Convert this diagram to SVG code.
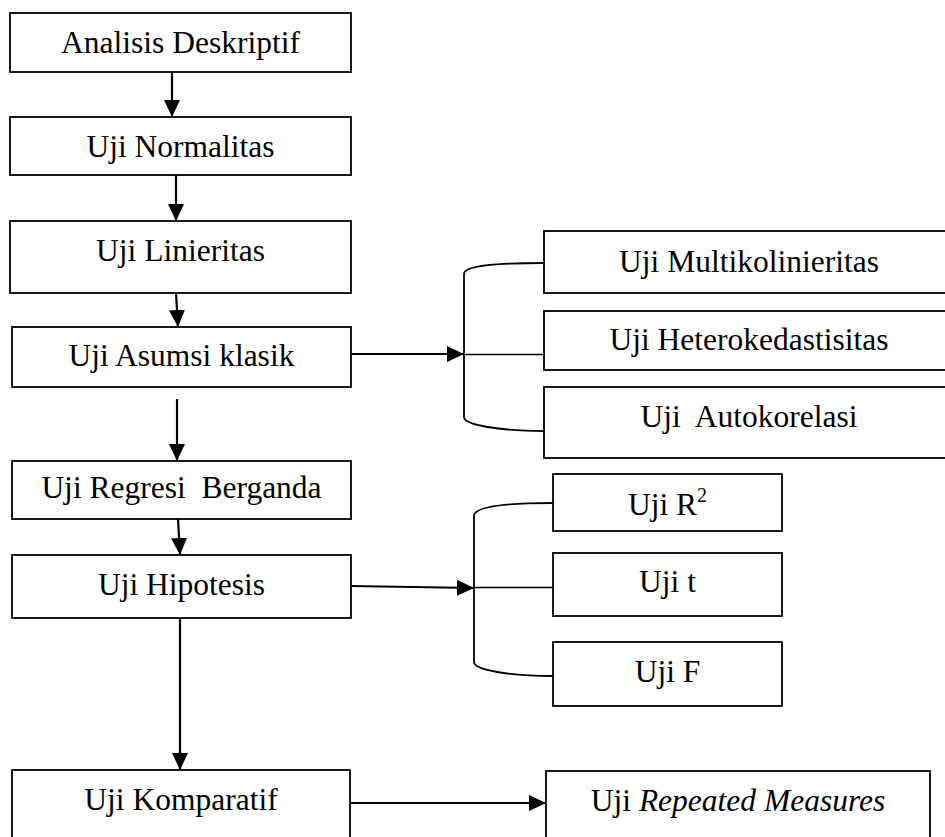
<svg xmlns="http://www.w3.org/2000/svg" width="945" height="837" viewBox="0 0 945 837">
<style>
  .box { fill: #ffffff; stroke: #000000; stroke-width: 1.8; }
  .lbl { font-family: "Liberation Serif", "Times New Roman", serif; font-size: 31.5px; fill: #000000; text-anchor: middle; white-space: pre; }
  .arr { fill: none; stroke: #000000; stroke-width: 2.2; marker-end: url(#ah); }
  .brace { fill: none; stroke: #000000; stroke-width: 1.8; }
  .thin { fill: none; stroke: #000000; stroke-width: 1.4; }
</style>
<defs>
  <marker id="ah" markerUnits="userSpaceOnUse" markerWidth="17" markerHeight="16" refX="17" refY="8" orient="auto">
    <path d="M0,0 L17,8 L0,16 Z" fill="#000000"/>
  </marker>
</defs>
<rect width="945" height="837" fill="#ffffff"/>

<g id="connectors">
  <path class="arr" d="M172,72 L172,117"/>
  <path class="arr" d="M176,175 L176,221"/>
  <path class="arr" d="M176,293 L178,327"/>
  <path class="arr" d="M177,399 L177,461"/>
  <path class="arr" d="M178,519 L180,555"/>
  <path class="arr" d="M180,618 L180,770"/>
  <path class="arr" d="M351,354 L464,354"/>
  <path class="arr" d="M351,586 L474,588"/>
  <path class="arr" d="M350,803 L546,803"/>
  <path class="brace" d="M544,263 C 500,263 464,265 464,274 L464,417 C 464,425 500,431 544,431"/>
  <path class="thin" d="M464,354.5 L544,354.5"/>
  <path class="brace" d="M553,503 C 510,503 474,506 474,516 L474,662 C 474,670 510,676 553,676"/>
  <path class="thin" d="M474,587.5 L553,587.5"/>
</g>

<g id="analisis-deskriptif">
  <rect class="box" x="10" y="13" width="341" height="59"/>
  <text class="lbl" x="180.5" y="53">Analisis Deskriptif</text>
</g>
<g id="uji-normalitas">
  <rect class="box" x="10" y="117" width="341" height="58"/>
  <text class="lbl" x="180.5" y="157">Uji Normalitas</text>
</g>
<g id="uji-linieritas">
  <rect class="box" x="10" y="221" width="341" height="72"/>
  <text class="lbl" x="180.5" y="261">Uji Linieritas</text>
</g>
<g id="uji-asumsi-klasik">
  <rect class="box" x="12" y="327" width="339" height="60"/>
  <text class="lbl" x="181.5" y="366">Uji Asumsi klasik</text>
</g>
<g id="uji-regresi-berganda">
  <rect class="box" x="12" y="461" width="339" height="58"/>
  <text class="lbl" x="181.5" y="498">Uji Regresi  Berganda</text>
</g>
<g id="uji-hipotesis">
  <rect class="box" x="12" y="555" width="339" height="63"/>
  <text class="lbl" x="181.5" y="595">Uji Hipotesis</text>
</g>
<g id="uji-komparatif">
  <rect class="box" x="12" y="770" width="338" height="100"/>
  <text class="lbl" x="181" y="810">Uji Komparatif</text>
</g>

<g id="uji-multikolinieritas">
  <rect class="box" x="544" y="231" width="410" height="62"/>
  <text class="lbl" x="749" y="272">Uji Multikolinieritas</text>
</g>
<g id="uji-heterokedastisitas">
  <rect class="box" x="544" y="311" width="410" height="59"/>
  <text class="lbl" x="749" y="350">Uji Heterokedastisitas</text>
</g>
<g id="uji-autokorelasi">
  <rect class="box" x="544" y="387" width="410" height="71"/>
  <text class="lbl" x="749" y="427">Uji  Autokorelasi</text>
</g>

<g id="uji-r2">
  <rect class="box" x="553" y="474" width="229" height="57"/>
  <text class="lbl" x="667.5" y="515">Uji R<tspan font-size="20" dy="-13">2</tspan></text>
</g>
<g id="uji-t">
  <rect class="box" x="553" y="553" width="229" height="63"/>
  <text class="lbl" x="667.5" y="592">Uji t</text>
</g>
<g id="uji-f">
  <rect class="box" x="553" y="642" width="229" height="64"/>
  <text class="lbl" x="667.5" y="682">Uji F</text>
</g>

<g id="uji-repeated-measures">
  <rect class="box" x="546" y="771" width="384" height="100"/>
  <text class="lbl" x="738" y="811">Uji <tspan font-style="italic">Repeated Measures</tspan></text>
</g>
</svg>
